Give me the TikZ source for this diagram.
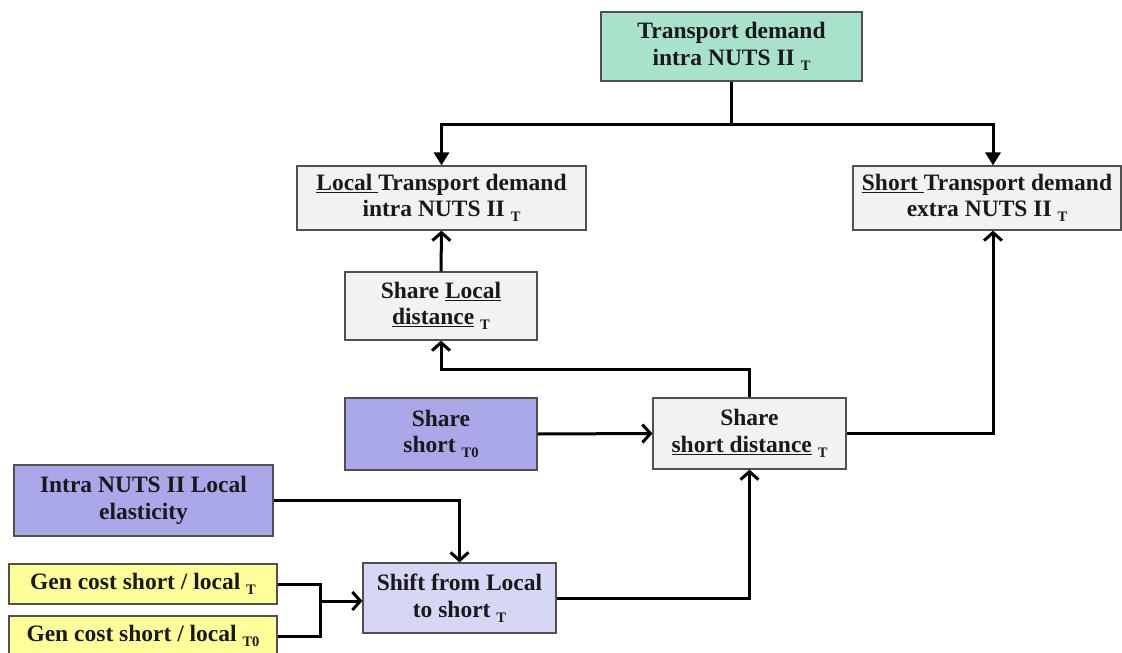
\documentclass[tikz,border=0pt]{standalone}
\usepackage{fontspec}
\setmainfont{Liberation Serif}
\usetikzlibrary{arrows.meta}

% lowered index letter set after a word, e.g. NUTS II _T
\newcommand\lowidx[1]{\raisebox{-5pt}{\fontsize{14.5}{14.5}\selectfont #1}}

\definecolor{mint}{HTML}{A9E2CB}
\definecolor{paleg}{HTML}{F2F2F2}
\definecolor{violet}{HTML}{AAA8E8}
\definecolor{lavender}{HTML}{D6D6F5}
\definecolor{lemon}{HTML}{FFFF99}
\definecolor{edge}{HTML}{505050}

\tikzset{
  box/.style={draw=edge, line width=1.2pt, align=center, inner sep=0pt,
    font=\bfseries\fontsize{23.5}{26.5}\selectfont, text=black!90},
  conn/.style={line width=3pt, black},
  tri/.style={conn, -{Triangle[length=13pt,width=15pt]}},
  barb/.style={conn, -{Straight Barb[length=8pt,width=18pt]}},
}

\begin{document}
\begin{tikzpicture}[x=1pt, y=-1pt]
\useasboundingbox (0,0) rectangle (1122,653);

% boxes
\node[box, fill=mint, minimum width=261pt, minimum height=69pt] (top) at (731.5,46.5)
  {Transport demand\\intra NUTS II \lowidx{T}};
\node[box, fill=paleg, minimum width=289pt, minimum height=64pt] (local) at (441.5,198)
  {\underline{Local\ }Transport demand\\intra NUTS II \lowidx{T}};
\node[box, fill=paleg, minimum width=268pt, minimum height=64pt] (short) at (987,198)
  {\underline{Short\ }Transport demand\\extra NUTS II \lowidx{T}};
\node[box, fill=paleg, minimum width=192pt, minimum height=68pt] (shloc) at (441,306)
  {Share \underline{Local}\\\underline{distance} \lowidx{T}};
\node[box, fill=violet, minimum width=192pt, minimum height=72pt] (shzero) at (441,434)
  {Share\\short \lowidx{T0}};
\node[box, fill=paleg, minimum width=193pt, minimum height=71pt] (shdist) at (749.5,433.5)
  {Share\\\underline{short distance} \lowidx{T}};
\node[box, fill=violet, minimum width=259pt, minimum height=71pt] (elast) at (143.5,500.5)
  {Intra NUTS II Local\\elasticity};
\node[box, fill=lemon, minimum width=268pt, minimum height=40pt] (gent) at (143,584)
  {Gen cost short / local \lowidx{T}};
\node[box, fill=lemon, minimum width=268pt, minimum height=40pt] (gentzero) at (143,636)
  {Gen cost short / local \lowidx{T0}};
\node[box, fill=lavender, minimum width=193pt, minimum height=70pt] (shift) at (459.5,598)
  {Shift from Local\\to short \lowidx{T}};

% junction points
\coordinate (split) at (731.5,124);
\coordinate (merge) at (320,601);

% connectors
\draw[conn] (top.south) -- (split);
\draw[tri] (split) -| (local.north);
\draw[tri] (split) -| ([xshift=6pt]short.north);
\draw[barb] (shloc.north) -- (local.south);
\draw[barb] (shdist.north) -- ++(0,-28) -| (shloc.south);
\draw[barb] (shzero.east) -- (shdist.west);
\draw[barb] (shdist.east) -| ([xshift=6pt]short.south);
\draw[barb] (elast.east) -| (shift.north);
\draw[conn] (gent.east) -| (merge);
\draw[conn] (gentzero.east) -| (merge);
\draw[barb] (merge) -- (merge -| shift.west);
\draw[barb] (shift.east) -| (shdist.south);
\end{tikzpicture}
\end{document}
